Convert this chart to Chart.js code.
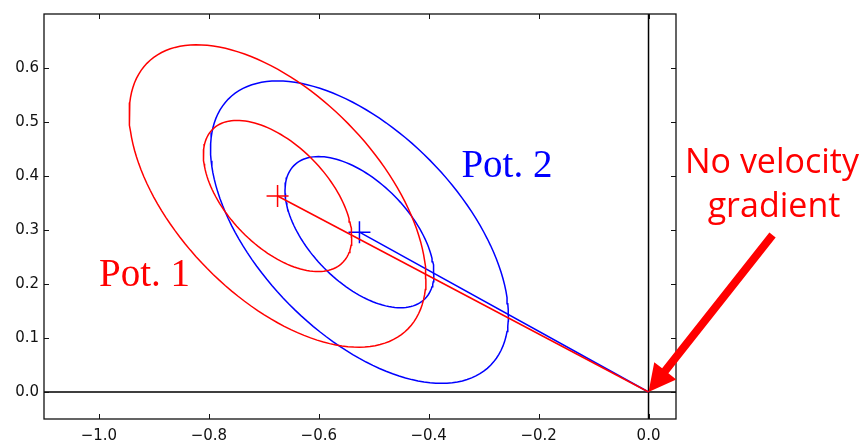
<!DOCTYPE html>
<html lang="en">
<head>
    <meta charset="UTF-8">
    <title>Pot. 1 / Pot. 2</title>
    <script src="https://cdn.jsdelivr.net/npm/chart.js@4.4.1/dist/chart.umd.min.js"></script>
    <style>
        body { margin: 0; background: #fff; }
        #box { width: 865px; height: 441px; }
    </style>
</head>
<body>
    <div id="box"><canvas id="myChart"></canvas></div>

<script>
// ticks
var xTickValues = [-1.0, -0.8, -0.6, -0.4, -0.2, 0.0];
var yTickValues = [0.0, 0.1, 0.2, 0.3, 0.4, 0.5, 0.6];

// the two potentials: mean position and spread
var potNames  = ['Pot. 1', 'Pot. 2'];
var potColors = ['#ff0000', '#0000ff'];
var centerX   = [-0.675, -0.526];
var centerY   = [0.363, 0.296];
var sigmaX    = [0.135, 0.1355];
var sigmaY    = [0.140, 0.140];
var rho       = [-0.545, -0.55];
var sigmaLevels = [1, 2];

// where the potentials converge without a velocity gradient
var origin = {x: 0.0, y: 0.0};

function ellipsePoints(i, k) {
    var pts = [];
    var n = 140;
    var s = Math.sqrt(1 - rho[i] * rho[i]);
    for (var j = 0; j <= n; j++) {
        var t = 2 * Math.PI * j / n;
        pts.push({
            x: centerX[i] + k * sigmaX[i] * Math.cos(t),
            y: centerY[i] + k * sigmaY[i] * (rho[i] * Math.cos(t) + s * Math.sin(t))
        });
    }
    return pts;
}

var datasets = [];
for (var i = 0; i < potNames.length; i++) {
    for (var k = 0; k < sigmaLevels.length; k++) {
        datasets.push({
            label: potNames[i] + ' ' + sigmaLevels[k] + 'σ',
            data: ellipsePoints(i, sigmaLevels[k]),
            showLine: true, pointRadius: 0, borderWidth: 1.5,
            borderColor: potColors[i], tension: 0
        });
    }
    datasets.push({
        label: potNames[i] + ' to origin',
        data: [{x: centerX[i], y: centerY[i]}, origin],
        showLine: true, pointRadius: 0, borderWidth: 1.5,
        borderColor: potColors[i]
    });
    datasets.push({
        label: potNames[i] + ' mean',
        data: [{x: centerX[i], y: centerY[i]}],
        pointStyle: 'cross', pointRadius: 11, borderWidth: 1.5,
        borderColor: potColors[i]
    });
}

function tickLabel(v) {
    return (v < 0 ? '\u2212' : '') + Math.abs(v).toFixed(1);
}

// black zero lines, inward ticks on all four sides and the frame
var frame = {
    id: 'frame',
    beforeDatasetsDraw: function(chart) {
        var c = chart.ctx, a = chart.chartArea;
        var sx = chart.scales.x, sy = chart.scales.y;
        c.save();
        c.strokeStyle = '#000';
        c.lineWidth = 1.5;
        c.beginPath();
        var py = sy.getPixelForValue(0), px = sx.getPixelForValue(0);
        c.moveTo(a.left, py); c.lineTo(a.right, py);
        c.moveTo(px, a.top); c.lineTo(px, a.bottom);
        c.stroke();
        c.restore();
    },
    afterDatasetsDraw: function(chart) {
        var c = chart.ctx, a = chart.chartArea;
        var sx = chart.scales.x, sy = chart.scales.y;
        var len = 5;
        c.save();
        c.strokeStyle = '#111';
        c.lineWidth = 1;
        c.beginPath();
        xTickValues.forEach(function(v) {
            var p = Math.round(sx.getPixelForValue(v)) + 0.5;
            c.moveTo(p, a.bottom); c.lineTo(p, a.bottom - len);
            c.moveTo(p, a.top); c.lineTo(p, a.top + len);
        });
        yTickValues.forEach(function(v) {
            var p = Math.round(sy.getPixelForValue(v)) + 0.5;
            c.moveTo(a.left, p); c.lineTo(a.left + len, p);
            c.moveTo(a.right, p); c.lineTo(a.right - len, p);
        });
        c.stroke();
        c.lineWidth = 1.3;
        c.strokeRect(a.left, a.top, a.right - a.left, a.bottom - a.top);
        c.restore();
    }
};

// labels and the arrow pointing at the origin
var notes = {
    id: 'notes',
    afterDraw: function(chart) {
        var c = chart.ctx, a = chart.chartArea;
        var sx = chart.scales.x, sy = chart.scales.y;
        c.save();
        c.textBaseline = 'alphabetic';
        c.font = '39px "Liberation Serif", serif';
        c.fillStyle = potColors[0];
        c.fillText(potNames[0], sx.getPixelForValue(-1.0), sy.getPixelForValue(0.196));
        c.fillStyle = potColors[1];
        c.fillText(potNames[1], sx.getPixelForValue(-0.3405), sy.getPixelForValue(0.3985));

        c.font = '34px "Open Sans", sans-serif';
        c.fillStyle = '#ff0000';
        c.textAlign = 'center';
        c.fillText('No velocity', a.right + 96, 173);
        c.fillText('gradient', a.right + 98, 217);

        // arrow
        var tipX = sx.getPixelForValue(origin.x), tipY = sy.getPixelForValue(origin.y);
        var dx = 124, dy = -157;
        var L = Math.sqrt(dx * dx + dy * dy);
        var ux = dx / L, uy = dy / L, nx = -uy, ny = ux;
        var hw = 4, headLen = 27, headW = 14;
        var bx = tipX + ux * headLen, by = tipY + uy * headLen;
        c.beginPath();
        c.moveTo(tipX, tipY);
        c.lineTo(bx + nx * headW, by + ny * headW);
        c.lineTo(bx + nx * hw, by + ny * hw);
        c.lineTo(tipX + dx + nx * hw, tipY + dy + ny * hw);
        c.lineTo(tipX + dx - nx * hw, tipY + dy - ny * hw);
        c.lineTo(bx - nx * hw, by - ny * hw);
        c.lineTo(bx - nx * headW, by - ny * headW);
        c.closePath();
        c.fill();
        c.restore();
    }
};

var ctx = document.getElementById('myChart').getContext('2d');
var myChart = new Chart(ctx, {
    type: 'scatter',
    data: { datasets: datasets },
    options: {
        animation: false,
        responsive: true,
        maintainAspectRatio: false,
        layout: { padding: { top: 9, right: 189, left: 0, bottom: 0 } },
        plugins: { legend: { display: false }, tooltip: { enabled: false } },
        scales: {
            x: {
                type: 'linear', min: -1.1, max: 0.05,
                grid: { display: false, drawTicks: false },
                border: { display: false },
                afterBuildTicks: function(s) { s.ticks = xTickValues.map(function(v) { return {value: v}; }); },
                afterFit: function(s) { s.height = 22; },
                ticks: {
                    padding: 8, color: '#111', maxRotation: 0,
                    font: { family: '"DejaVu Sans"', size: 15 },
                    callback: function(v) { return tickLabel(v); }
                }
            },
            y: {
                type: 'linear', min: -0.05, max: 0.7,
                grid: { display: false, drawTicks: false },
                border: { display: false },
                afterBuildTicks: function(s) { s.ticks = yTickValues.map(function(v) { return {value: v}; }); },
                afterFit: function(s) { s.width = 44; },
                ticks: {
                    padding: 5, color: '#111',
                    font: { family: '"DejaVu Sans"', size: 15 },
                    callback: function(v) { return tickLabel(v); }
                }
            }
        }
    },
    plugins: [frame, notes]
});
</script>
</body>
</html>
